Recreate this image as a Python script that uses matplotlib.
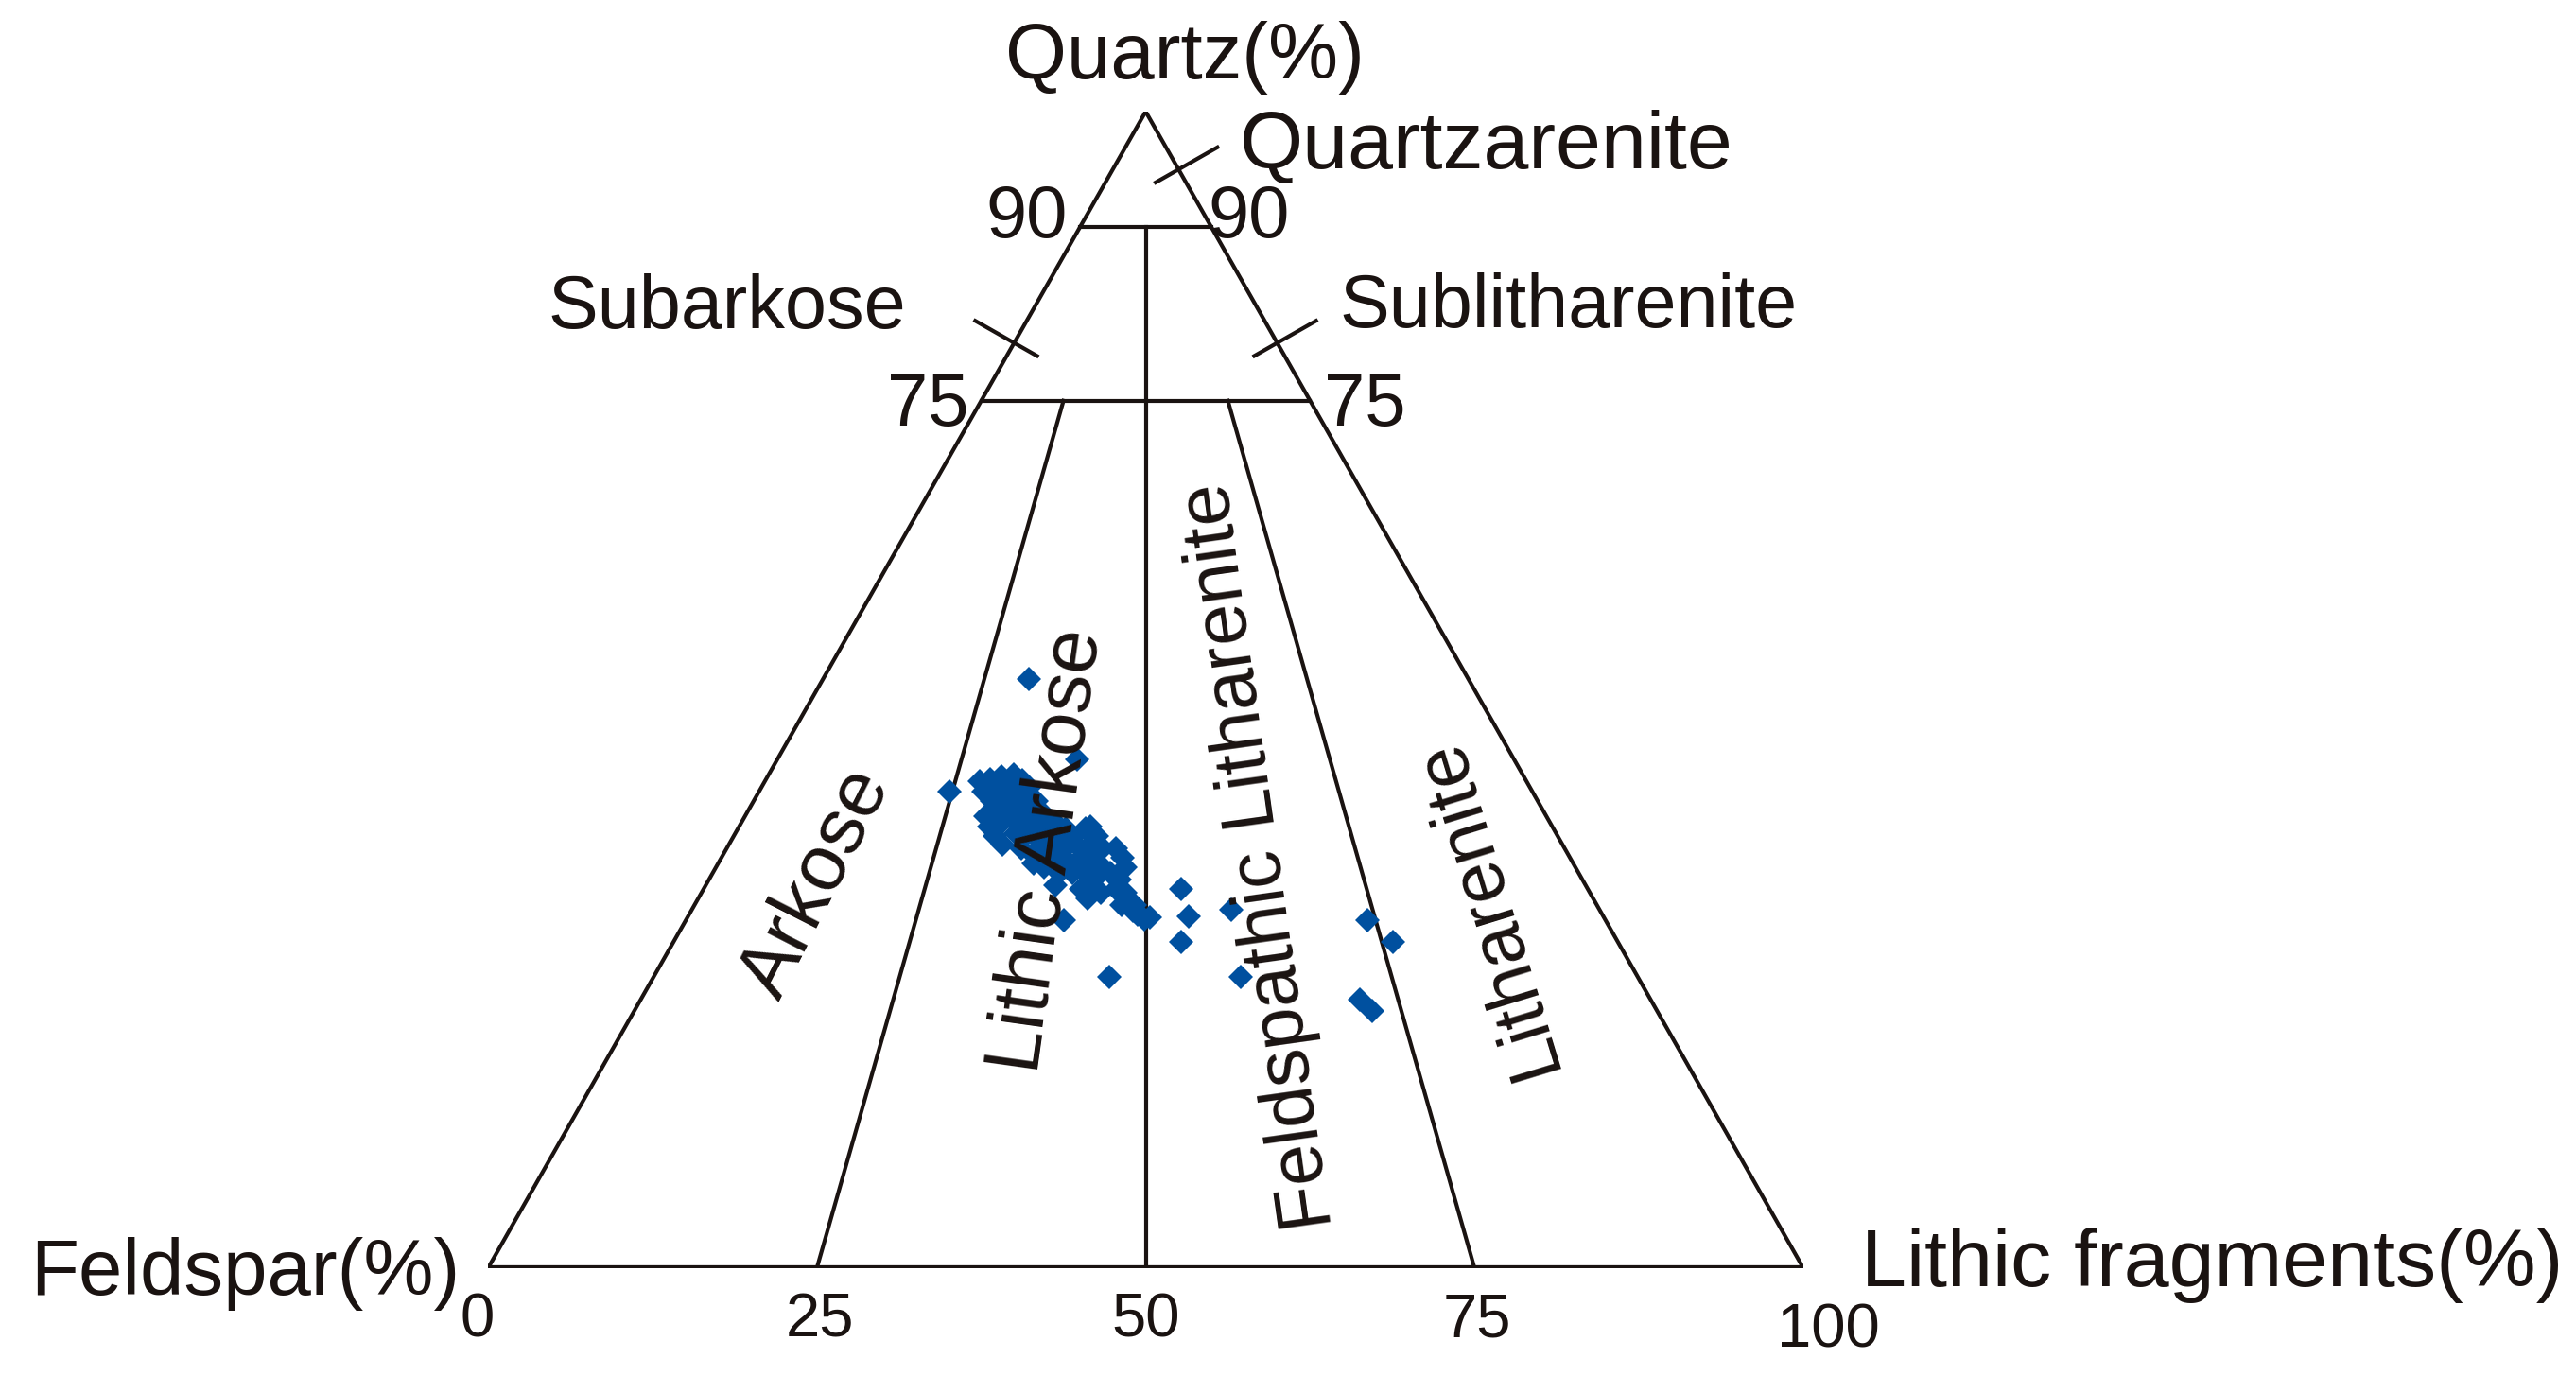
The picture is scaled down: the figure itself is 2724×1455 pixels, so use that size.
import numpy as np
import matplotlib
matplotlib.use('Agg')
import matplotlib.pyplot as plt

plt.rcParams['font.family'] = ['Liberation Sans', 'DejaVu Sans']

# sandstone compositions (%)
quartz = [42.1, 42.3, 42.5, 42.7, 42.2, 41.5, 41.2, 41.5, 41.6, 41.2,
          40.8, 40.4, 40.7, 40.4, 40.4, 39.1, 39.5, 39.9, 39.6, 39.3,
          39.6, 38.8, 38.2, 38.4, 38.8, 38.4, 38.5, 38.0, 38.4, 38.0,
          37.4, 36.6, 37.6, 37.4, 37.2, 36.9, 37.4, 37.2, 38.0, 38.2,
          37.4, 36.3, 35.8, 36.1, 36.3, 36.3, 36.5, 36.6, 36.3, 36.3,
          35.5, 34.7, 35.0, 34.7, 35.1, 35.2, 35.5, 35.2, 34.7, 34.2,
          34.2, 34.2, 33.9, 34.2, 33.6, 32.8, 33.1, 32.5, 32.0, 32.8,
          32.5, 31.7, 31.4, 31.4, 30.6, 30.2, 30.3, 30.9,
          50.9, 41.2, 44.0, 33.1, 30.1, 25.2,
          32.8, 30.4, 28.2, 31.0, 25.2, 30.1, 28.2, 23.2, 22.2]
lithic = [16.3, 17.0, 17.8, 18.6, 19.5, 20.4, 17.1, 17.8, 18.5, 19.7,
          20.6, 18.1, 18.8, 19.7, 21.5, 18.3, 18.9, 19.5, 20.8, 21.6,
          22.2, 23.1, 19.0, 19.8, 20.4, 21.4, 22.3, 23.4, 24.0, 24.9,
          19.8, 20.8, 21.3, 22.1, 23.1, 24.0, 24.7, 25.8, 26.4, 26.7,
          27.6, 22.4, 23.5, 24.2, 24.8, 25.7, 26.6, 27.5, 28.6, 29.6,
          30.5, 31.1, 24.0, 24.9, 25.6, 26.5, 27.3, 28.4, 29.4, 26.3,
          27.3, 28.3, 29.4, 30.2, 31.2, 28.7, 29.3, 30.3, 29.6, 31.3,
          32.2, 32.8, 32.5, 33.5, 34.1, 34.8, 35.2, 33.6,
          15.7, 14.5, 22.8, 26.6, 28.7, 34.6,
          36.3, 38.1, 38.6, 41.0, 44.6, 51.8, 54.7, 54.7, 56.1]
feldspar = [round(100 - q - l, 1) for q, l in zip(quartz, lithic)]

base_ticks = [0, 25, 50, 75, 100]
quartz_levels = [90, 75]

H = 1223 / 1391.  # height of the triangle as drawn, relative to its base
ink = '#1a1311'


def to_xy(q, f, l):
    q, f, l = np.asarray(q, float), np.asarray(f, float), np.asarray(l, float)
    s = q + f + l
    return (l + q / 2) / s, q / s * H


def seg(ax, p1, p2, lw=3.0):
    x, y = to_xy(*zip(p1, p2))
    ax.plot(x, y, color=ink, lw=lw, solid_capstyle='projecting')


fig = plt.figure(figsize=(27.24, 14.55), dpi=100)
ax = fig.add_axes([516 / 2724, 114 / 1455, 1391 / 2724, 1223 / 1455])
ax.set_xlim(0, 1)
ax.set_ylim(0, H)
ax.axis('off')

# outline
seg(ax, (0, 100, 0), (100, 0, 0))
seg(ax, (100, 0, 0), (0, 0, 100))
seg(ax, (0, 100, 0), (0, 0, 100), lw=4.5)

# quartz boundaries
for q in quartz_levels:
    seg(ax, (q, 100 - q, 0), (q, 0, 100 - q))

# F:L ratio boundaries
seg(ax, (0, 75, 25), (75, 18.75, 6.25))
seg(ax, (0, 50, 50), (90, 5, 5))
seg(ax, (0, 25, 75), (75, 6.25, 18.75))

# leader ticks on the sides
def side_tick(q, side, a_in=0.02, a_out=0.034):
    if side == 'left':
        px, py = to_xy(q, 100 - q, 0)
        n = np.array([-H, 0.5])
    else:
        px, py = to_xy(q, 0, 100 - q)
        n = np.array([H, 0.5])
    n = n / np.hypot(*n)
    ax.plot([px - n[0] * a_in, px + n[0] * a_out],
            [py - n[1] * a_in, py + n[1] * a_out], color=ink, lw=3.0)

side_tick(95, 'right')
side_tick(80, 'left')
side_tick(80, 'right')

# samples
x, y = to_xy(quartz, feldspar, lithic)
ax.plot(x, y, 'D', color='#00509f', ms=13, mew=0, zorder=3)

fs = 60
kw = dict(color=ink, clip_on=False)
ax.text(0.530, 0.920, 'Quartz(%)', ha='center', va='center', fontsize=fs, **kw)
ax.text(-0.0216, -0.004, 'Feldspar(%)', ha='right', va='center', fontsize=fs, **kw)
ax.text(1.044, 0.002, 'Lithic fragments(%)', ha='left', va='center',
        fontsize=62, **kw)

ax.text(0.5715, 0.852, 'Quartzarenite', ha='left', va='center', fontsize=62, **kw)
ax.text(0.318, 0.729, 'Subarkose', ha='right', va='center', fontsize=57, **kw)
ax.text(0.647, 0.730, 'Sublitharenite', ha='left', va='center', fontsize=57, **kw)

nkw = dict(color=ink, fontsize=56, va='center', clip_on=False)
ax.text(0.4407, 0.798, '90', ha='right', **nkw)
ax.text(0.547, 0.798, '90', ha='left', **nkw)
ax.text(0.366, 0.655, '75', ha='right', **nkw)
ax.text(0.6355, 0.655, '75', ha='left', **nkw)

tick_x = [-0.008, 0.252, 0.5, 0.752, 1.019]
for tx, t in zip(tick_x, base_ticks):
    ax.text(tx, -0.040 if t < 100 else -0.048, str(t), ha='center', va='center',
            color=ink, fontsize=47, clip_on=False)

rkw = dict(color=ink, ha='center', va='center',
           rotation_mode='anchor', clip_on=False)
ax.text(0.2495, 0.293, 'Arkose', rotation=63, fontsize=fs, **rkw)
ax.text(0.4257, 0.317, 'Lithic Arkose', rotation=82, fontsize=fs, **rkw)
ax.text(0.587, 0.313, 'Feldspathic Litharenite', rotation=98, fontsize=57, **rkw)
ax.text(0.759, 0.275, 'Litharenite', rotation=107, fontsize=57, **rkw)

fig.savefig('out.png', dpi=100, facecolor='white')
